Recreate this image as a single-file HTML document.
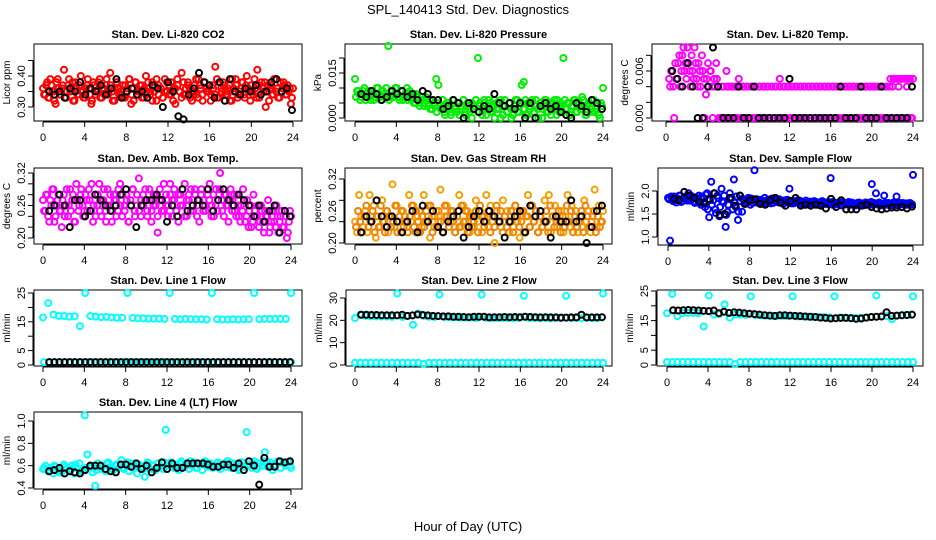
<!DOCTYPE html>
<html><head><meta charset="utf-8"><title>SPL_140413 Std. Dev. Diagnostics</title>
<style>
html,body{margin:0;padding:0;background:#fff;}
svg{display:block;font-family:"Liberation Sans",sans-serif;}
</style></head>
<body>
<svg id="chart" width="936" height="540" viewBox="0 0 936 540" xmlns="http://www.w3.org/2000/svg">
<text x="468" y="14" text-anchor="middle" font-size="13">SPL_140413  Std. Dev. Diagnostics</text>
<text x="468" y="531" text-anchor="middle" font-size="13">Hour of Day (UTC)</text>
</svg>
<script>
const xTicks = [0,4,8,12,16,20,24];

const co2Color = [.36,.34,.38,.33,.37,.35,.31,.39,.34,.36,.42,.33,.37,.35,.38,.32,.36,.34,.40,.35,.33,.37,.36,.31,.38,.34,.35,.39,.33,.36,.37,.34,.41,.35,.32,.38,.36,.34,.37,.33,.35,.39,.31,.36,.38,.34,.35,.37,.33,.40,.36,.34,.38,.35,.32,.37,.36,.33,.39,.35,.34,.38,.36,.31,.37,.35,.41,.34,.36,.38,.33,.35,.37,.34,.39,.36,.32,.38,.35,.37,.34,.36,.43,.33,.38,.35,.37,.34,.36,.32,.39,.35,.37,.34,.36,.38,.33,.40,.35,.37,.34,.36,.42,.33,.38,.35,.30,.37,.36,.34,.39,.35,.33,.38,.36,.37,.34,.35,.31,.36];
const co2Color2 = [.34,.37,.33,.39,.35,.32,.38,.36,.34,.37,.33,.35,.39,.36,.32,.38,.34,.37,.35,.33,.36,.39,.34,.32,.37,.35,.38,.33,.36,.34,.39,.35,.37,.32,.36,.38,.34,.35,.33,.37,.36,.39,.34,.32,.38,.35,.37,.33,.36,.34,.38,.35,.32,.37,.39,.34,.36,.33,.35,.38,.37,.34,.32,.36,.39,.35,.33,.38,.34,.37,.36,.32,.35,.39,.33,.37,.34,.38,.36,.35,.32,.37,.34,.39,.33,.36,.38,.35,.34,.37,.32,.36,.39,.33,.35,.38,.34,.37,.36,.32,.35,.39,.33,.37,.34,.36,.38,.35,.32,.37,.34,.39,.36,.33,.35,.38,.34,.37,.36,.33];
const co2Black = [.35,.34,.35,.33,.36,.35,.38,.34,.36,.35,.37,.34,.36,.39,.33,.35,.36,.34,.35,.33,.37,.36,.30,.38,.35,.27,.26,.34,.36,.41,.38,.37,.33,.38,.32,.39,.35,.34,.36,.35,.37,.34,.35,.38,.39,.35,.36,.29];

const presColor = [0.013,0.009,0.008,0.007,0.009,0.006,0.008,0.007,0.009,0.006,0.008,0.010,0.007,0.009,0.008,0.010,0.024,0.007,0.009,0.008,0.010,0.007,0.009,0.006,0.008,0.010,0.007,0.006,0.008,0.005,0.007,0.004,0.006,0.005,0.007,0.004,0.006,0.003,0.005,0.013,0.011,0.004,0.006,0.002,0.005,0.003,0.001,0.006,0.004,0.002,0.005,0.003,0.006,0.001,0.004,0.002,0.005,0.003,0.006,0.020,0.004,0.001,0.005,0.003,0.006,0.002,0.004,0.000,0.005,0.003,0.006,0.001,0.004,0.002,0.005,0.000,0.003,0.006,0.002,0.004,0.011,0.012,0.001,0.005,0.003,0.006,0.002,0.004,0.000,0.005,0.003,0.006,0.002,0.004,0.001,0.005,0.003,0.006,0.002,0.004,0.020,0.003,0.005,0.001,0.004,0.006,0.002,0.005,0.003,0.007,0.004,0.001,0.005,0.003,0.006,0.002,0.004,0.001,0.005,0.010];
const presColor2 = [0.007,0.009,0.006,0.008,0.010,0.007,0.009,0.006,0.008,0.007,0.010,0.008,0.006,0.009,0.007,0.008,0.006,0.009,0.007,0.010,0.008,0.006,0.009,0.007,0.008,0.006,0.009,0.007,0.005,0.008,0.006,0.005,0.007,0.004,0.006,0.005,0.003,0.006,0.004,0.002,0.005,0.003,0.006,0.001,0.004,0.005,0.002,0.006,0.003,0.005,0.001,0.004,0.006,0.002,0.005,0.003,0.000,0.004,0.006,0.002,0.005,0.003,0.006,0.001,0.004,0.005,0.002,0.006,0.003,0.005,0.000,0.004,0.006,0.002,0.005,0.003,0.001,0.004,0.006,0.002,0.005,0.003,0.006,0.001,0.004,0.005,0.002,0.006,0.003,0.005,0.000,0.004,0.006,0.002,0.005,0.003,0.006,0.001,0.004,0.005,0.002,0.006,0.003,0.005,0.001,0.004,0.006,0.002,0.005,0.003,0.006,0.001,0.004,0.005,0.002,0.006,0.003,0.005,0.000,0.004];
const presBlack = [0.008,0.007,0.009,0.008,0.006,0.007,0.009,0.008,0.009,0.007,0.008,0.006,0.009,0.008,0.006,0.006,0.003,0.004,0.006,0.005,0.000,0.005,0.003,0.002,0.004,0.003,0.008,0.005,0.004,0.005,0.003,0.005,0.000,0.005,0.000,0.004,0.005,0.003,0.004,0.002,0.001,0.000,0.005,0.004,0.002,0.006,0.005,0.003];

const tempColor = [0.005,0.006,0.004,0.007,0.005,0.008,0.006,0.009,0.007,0.009,0.006,0.008,0.005,0.007,0.004,0.006,0.008,0.005,0.003,0.007,0.006,0.004,0.005,0.007,0.004,0,0.004,0,0.006,0.004,0,0.004,0,0.004,0.005,0,0.004,0,0.004,0,0.004,0,0.004,0,0.004,0,0.004,0,0.004,0,0.004,0,0.004,0,0.005,0,0.004,0,0.004,0,0.004,0,0.004,0,0.004,0,0.004,0,0.004,0,0.004,0,0.004,0,0.004,0,0.004,0,0.004,0,0.004,0,0.004,0,0.004,0,0.004,0,0.004,0,0.004,0,0.004,0,0.004,0,0.004,0,0.004,0,0.004,0,0.004,0,0.004,0,0.004,0,0.005,0.004,0.005,0,0.004,0.005,0,0.005,0.004,0.005,0,0.005];
const tempColor2 = [0.004,0.006,0,0.005,0.007,0.004,0.008,0.006,0.005,0.007,0.004,0.006,0.009,0.005,0.007,0.004,0.006,0,0.005,0.004,0.006,0,0.004,0.005,0,0,0.004,0,0.004,0,0.004,0,0.004,0,0.004,0,0.004,0,0.004,0,0.004,0,0.004,0,0.004,0,0.004,0,0.004,0,0.004,0,0.004,0,0.004,0,0.004,0,0.004,0,0.004,0,0.004,0,0.004,0,0.004,0,0.004,0,0.004,0,0.004,0,0.004,0,0.004,0,0.004,0,0.004,0,0.004,0,0.004,0,0.004,0,0.004,0,0.004,0,0.004,0,0.004,0,0.004,0,0.004,0,0.004,0,0.004,0,0.004,0,0.004,0,0.004,0,0.005,0,0.005,0,0.005,0,0.005,0,0.005,0];
const tempBlack = [0.006,0.005,0.004,0.007,0.004,0,0,0.004,0.009,0.004,0,0,0,0.004,0,0,0.004,0,0,0,0,0,0,0.005,0,0,0,0,0,0,0,0,0,0.004,0,0,0,0.004,0,0,0,0.004,0,0,0,0,0,0.004];

const ambColor = [0.27,0.25,0.28,0.23,0.26,0.29,0.24,0.27,0.25,0.22,0.28,0.26,0.24,0.29,0.27,0.23,0.30,0.25,0.28,0.26,0.24,0.27,0.29,0.25,0.23,0.28,0.26,0.30,0.24,0.27,0.25,0.29,0.26,0.23,0.28,0.27,0.25,0.30,0.24,0.26,0.28,0.23,0.27,0.29,0.25,0.26,0.31,0.24,0.28,0.27,0.25,0.29,0.23,0.26,0.28,0.21,0.27,0.25,0.30,0.26,0.24,0.28,0.27,0.29,0.25,0.23,0.28,0.26,0.30,0.24,0.27,0.29,0.25,0.28,0.26,0.23,0.29,0.27,0.25,0.28,0.30,0.26,0.24,0.29,0.27,0.32,0.25,0.28,0.26,0.23,0.29,0.27,0.25,0.28,0.24,0.26,0.29,0.23,0.27,0.25,0.22,0.28,0.24,0.26,0.23,0.25,0.21,0.24,0.27,0.22,0.25,0.23,0.26,0.21,0.24,0.22,0.25,0.20,0.23,0.24];
const ambColor2 = [0.25,0.28,0.24,0.27,0.29,0.23,0.26,0.28,0.25,0.27,0.24,0.29,0.26,0.25,0.28,0.23,0.27,0.26,0.29,0.24,0.28,0.25,0.27,0.30,0.26,0.24,0.28,0.25,0.27,0.29,0.23,0.26,0.28,0.25,0.27,0.24,0.29,0.26,0.28,0.25,0.27,0.23,0.26,0.29,0.24,0.28,0.25,0.27,0.26,0.29,0.24,0.27,0.25,0.28,0.26,0.24,0.29,0.27,0.25,0.28,0.26,0.30,0.24,0.27,0.25,0.28,0.26,0.29,0.24,0.27,0.28,0.25,0.26,0.29,0.24,0.27,0.28,0.25,0.26,0.29,0.27,0.24,0.28,0.26,0.25,0.29,0.27,0.24,0.28,0.26,0.27,0.25,0.28,0.24,0.26,0.23,0.25,0.27,0.24,0.22,0.26,0.23,0.25,0.24,0.22,0.26,0.23,0.25,0.24,0.21,0.23,0.25,0.22,0.24,0.23,0.25,0.22,0.24,0.21,0.25];
const ambBlack = [0.25,0.26,0.28,0.26,0.22,0.27,0.27,0.24,0.25,0.28,0.27,0.26,0.25,0.26,0.28,0.29,0.26,0.22,0.26,0.27,0.27,0.28,0.27,0.23,0.26,0.24,0.29,0.25,0.26,0.27,0.26,0.29,0.25,0.27,0.29,0.27,0.26,0.28,0.27,0.26,0.24,0.26,0.23,0.25,0.26,0.21,0.25,0.24];

const rhColor = [0.24,0.22,0.29,0.25,0.23,0.26,0.22,0.29,0.24,0.27,0.21,0.25,0.23,0.28,0.24,0.26,0.22,0.25,0.31,0.23,0.27,0.24,0.22,0.26,0.25,0.23,0.29,0.24,0.27,0.22,0.25,0.26,0.23,0.29,0.24,0.27,0.21,0.25,0.23,0.26,0.24,0.30,0.22,0.25,0.27,0.23,0.24,0.26,0.22,0.25,0.29,0.23,0.27,0.24,0.26,0.22,0.25,0.23,0.28,0.24,0.26,0.22,0.25,0.29,0.23,0.27,0.24,0.20,0.26,0.25,0.23,0.28,0.24,0.26,0.22,0.25,0.23,0.27,0.24,0.21,0.26,0.22,0.25,0.29,0.23,0.27,0.24,0.26,0.22,0.25,0.23,0.28,0.24,0.29,0.22,0.25,0.27,0.23,0.24,0.26,0.22,0.25,0.29,0.23,0.27,0.24,0.26,0.22,0.25,0.23,0.28,0.24,0.26,0.22,0.25,0.30,0.23,0.27,0.24,0.26];
const rhColor2 = [0.23,0.26,0.24,0.22,0.25,0.27,0.23,0.24,0.26,0.22,0.25,0.23,0.27,0.24,0.22,0.26,0.25,0.23,0.24,0.27,0.22,0.25,0.26,0.23,0.24,0.22,0.25,0.27,0.23,0.26,0.24,0.22,0.25,0.23,0.26,0.24,0.27,0.22,0.25,0.23,0.26,0.24,0.22,0.27,0.25,0.23,0.26,0.24,0.22,0.25,0.23,0.27,0.24,0.26,0.22,0.25,0.23,0.24,0.26,0.22,0.27,0.25,0.23,0.24,0.26,0.22,0.25,0.23,0.27,0.24,0.26,0.22,0.25,0.23,0.24,0.26,0.22,0.27,0.25,0.23,0.24,0.26,0.22,0.25,0.23,0.27,0.24,0.26,0.22,0.25,0.23,0.24,0.26,0.22,0.27,0.25,0.23,0.24,0.26,0.22,0.25,0.23,0.27,0.24,0.26,0.22,0.25,0.23,0.24,0.26,0.22,0.27,0.25,0.23,0.24,0.26,0.22,0.25,0.23,0.24];
const rhBlack = [0.22,0.25,0.24,0.28,0.25,0.23,0.25,0.24,0.22,0.24,0.26,0.22,0.27,0.24,0.26,0.23,0.22,0.24,0.25,0.26,0.21,0.23,0.25,0.26,0.24,0.26,0.25,0.24,0.21,0.24,0.25,0.26,0.22,0.27,0.25,0.26,0.24,0.21,0.25,0.24,0.24,0.28,0.24,0.25,0.20,0.23,0.26,0.27];

const flowColor = [1.85,0.92,1.80,1.88,1.75,1.83,1.90,1.78,1.86,1.82,1.95,1.79,1.87,1.74,1.84,1.90,1.70,1.86,1.65,1.95,1.43,2.20,1.80,1.60,1.90,1.45,2.05,1.75,1.22,1.55,1.95,1.85,2.25,1.65,1.37,1.90,1.55,1.80,1.75,1.85,1.70,1.82,2.45,1.75,1.80,1.72,1.78,1.85,1.75,1.80,1.73,1.84,1.78,1.76,1.82,1.74,1.79,1.77,1.81,2.05,1.73,1.78,1.75,1.80,1.72,1.77,1.70,1.79,1.74,1.76,1.72,1.78,1.73,1.75,1.71,1.77,1.74,1.72,1.76,2.28,1.70,1.75,1.72,1.74,1.69,1.76,1.71,1.73,1.70,1.75,1.72,1.70,1.74,1.71,1.73,1.69,1.75,1.72,1.70,2.15,1.74,1.95,1.71,1.73,1.70,1.90,1.72,1.74,1.71,1.69,1.73,1.88,1.70,1.72,1.74,1.71,1.73,1.70,1.72,2.35];
const flowColor2 = [1.82,1.88,1.78,1.85,1.80,1.90,1.76,1.84,1.87,1.79,1.83,1.89,1.77,1.86,1.81,1.75,1.88,1.72,1.92,1.60,1.80,1.70,1.95,1.52,1.85,1.65,1.78,1.90,1.48,1.70,1.82,1.60,1.75,1.88,1.55,1.78,1.83,1.72,1.80,1.76,1.84,1.74,1.79,1.82,1.75,1.81,1.77,1.73,1.80,1.76,1.83,1.74,1.78,1.81,1.75,1.79,1.72,1.80,1.76,1.74,1.78,1.73,1.77,1.75,1.79,1.72,1.76,1.74,1.71,1.77,1.75,1.73,1.76,1.70,1.74,1.78,1.72,1.75,1.71,1.73,1.76,1.70,1.74,1.72,1.75,1.69,1.73,1.71,1.76,1.70,1.74,1.72,1.69,1.75,1.71,1.73,1.70,1.74,1.72,1.76,1.70,1.73,1.71,1.75,1.69,1.72,1.74,1.70,1.73,1.71,1.75,1.72,1.69,1.74,1.71,1.73,1.70,1.72,1.74,1.71];
const flowBlack = [1.83,1.80,1.98,1.90,1.85,1.77,1.74,1.82,1.95,1.48,1.50,1.85,1.68,1.90,1.72,1.80,1.82,1.72,1.70,1.80,1.85,1.75,1.68,1.78,1.85,1.68,1.70,1.68,1.70,1.68,1.62,1.83,1.65,1.80,1.60,1.60,1.60,1.68,1.70,1.65,1.62,1.60,1.62,1.64,1.64,1.65,1.62,1.66];

const line1High = [16.5,21.5,17.5,17,17,16.8,16.9,13.5,25,17,16.8,16.6,16.7,16.5,16.4,16.4,25,16.3,16.2,16.2,16.1,16.1,16.1,16.0,25,16.0,15.9,16.0,15.9,15.9,15.9,15.8,25,15.9,15.8,15.8,15.9,15.8,15.9,15.9,25,15.9,16.0,16.0,16.0,16.0,16.0,25];
const line1Low = [1,1,1,1,1,1,1,1,1,1,1,1,1,1,1,1,1,1,1,1,1,1,1,1,1,1,1,1,1,1,1,1,1,1,1,1,1,1,1,1,1,1,1,1,1,1,1,1];
const line1Black = [1,1,1,1,1,1,1,1,1,1,1,1,1,1,1,1,1,1,1,1,1,1,1,1,1,1,1,1,1,1,1,1,1,1,1,1,1,1,1,1,1,1,1,1,1,1,1,1];

const line2High = [21,22.5,22,21.8,21.8,21.7,21.7,21.6,32,21.5,22,18,23,22,21.6,21.5,31.5,21.4,21.3,21.3,21.2,21.2,21.2,21.1,31.5,21.1,21.0,21.0,21.0,21.0,21.0,21.0,31,21.0,21.0,20.9,21.0,20.9,21.0,21.0,31,21.0,21.1,21.0,21.1,21.0,21.0,32];
const line2Low = [1,1,1,1,1,1,1,1,1,1,1,1,1,0.5,1,1,1,1,1,1,1,1,1,1,1,1,1,1,1,1,1,1,1,1,1,1,1,1,1,1,1,1,1,1,1,1,1,1];
const line2Black = [22.5,22.5,22.4,22.4,22.3,22.3,22.3,22.2,22.5,22.0,22.2,22.6,22.4,22.2,22.0,21.9,21.8,21.8,21.6,21.6,21.5,21.4,21.6,21.6,21.6,21.3,21.4,21.4,21.5,21.4,21.5,21.4,21.6,21.5,21.4,21.3,21.4,21.3,21.3,21.2,21.2,21.3,21.3,22.5,21.3,21.3,21.3,21.4];

const line3High = [17.5,24,16.5,17.5,17.6,17.6,17.5,13,23.5,17,17.2,20.5,16,17,17,16.9,23.2,16.8,16.8,16.7,16.6,16.6,16.6,16.5,23.2,16.4,16.4,16.3,16.3,16.2,16.2,16.1,23.2,16.0,16.0,15.9,15.9,15.9,16.0,16.2,23.5,16.4,16.5,15.5,16.7,16.8,16.9,23.2];
const line3Low = [1,1,1,1,1,1,1,1,1,1,1,1,1,0.3,1,1,1,1,1,1,1,1,1,1,1,1,1,1,1,1,1,1,1,1,1,1,1,1,1,1,1,1,1,1,1,1,1,1];
const line3Black = [18.5,18.4,18.5,18.6,18.5,18.4,18.3,18.2,18.4,17.5,18.0,17.6,17.8,17.7,17.5,17.3,17.2,17.0,16.8,16.7,16.6,16.8,16.8,16.7,16.6,16.5,16.4,16.3,16.2,16.0,15.9,15.7,15.8,15.9,15.9,15.8,15.6,15.7,16.0,16.2,16.3,16.4,17.8,16.6,16.7,16.8,16.9,17.0];

const line4Color = [0.57,0.60,0.55,0.58,0.53,0.59,0.56,0.54,0.61,0.57,0.55,0.60,0.53,0.58,0.62,0.56,1.05,0.70,0.58,0.54,0.42,0.62,0.57,0.60,0.55,0.63,0.59,0.56,0.61,0.58,0.65,0.57,0.60,0.55,0.62,0.58,0.53,0.61,0.59,0.50,0.63,0.57,0.60,0.56,0.62,0.59,0.57,0.92,0.60,0.63,0.58,0.61,0.56,0.64,0.59,0.62,0.57,0.60,0.63,0.58,0.61,0.56,0.64,0.59,0.62,0.58,0.60,0.63,0.57,0.61,0.59,0.64,0.58,0.62,0.60,0.56,0.63,0.59,0.90,0.61,0.58,0.64,0.57,0.62,0.60,0.72,0.59,0.63,0.56,0.61,0.64,0.58,0.62,0.60,0.63,0.58];
const line4Color2 = [0.58,0.56,0.60,0.54,0.59,0.57,0.61,0.55,0.58,0.60,0.56,0.59,0.62,0.57,0.60,0.58,0.63,0.59,0.61,0.57,0.62,0.60,0.58,0.63,0.61,0.59,0.62,0.60,0.64,0.58,0.61,0.63,0.59,0.62,0.60,0.64,0.61,0.58,0.63,0.60,0.62,0.59,0.64,0.61,0.60,0.63,0.62,0.60];
const line4Black = [0.55,0.56,0.58,0.53,0.55,0.54,0.53,0.56,0.60,0.60,0.60,0.57,0.55,0.54,0.61,0.61,0.59,0.62,0.57,0.60,0.54,0.58,0.63,0.57,0.62,0.58,0.58,0.62,0.62,0.62,0.62,0.61,0.59,0.59,0.61,0.61,0.58,0.62,0.56,0.64,0.60,0.43,0.67,0.59,0.59,0.64,0.63,0.64];

const svg = document.getElementById('chart');
const NS = 'http://www.w3.org/2000/svg';
function mk(tag, attrs, parent){
  const e = document.createElementNS(NS, tag);
  for (const k in attrs) e.setAttribute(k, attrs[k]);
  (parent||svg).appendChild(e);
  return e;
}

function panel(key, title, ylab, bx0, bx1, by0, by1, x0px, x24px, v0, p0, v1, p1, yTicks, yLabels){
  const g = mk('g', {});
  
  
  const sx = h => x0px + (x24px - x0px) * h / 24;
  const sy = v => p0 + (p1 - p0) * (v - v0) / (v1 - v0);
  const box = mk('rect', {x:bx0, y:by0, width:bx1-bx0, height:by1-by0, fill:'none', stroke:'#000', 'stroke-width':1}, g);
  
  
  const t = mk('text', {x:(bx0+bx1)/2, y:by0-6, 'text-anchor':'middle', 'font-size':11, 'font-weight':'bold'}, g);
  t.textContent = title;
  
  
  const yl = mk('text', {x:0, y:0, 'text-anchor':'middle', 'font-size':10, transform:'translate(' + (bx0-24) + ',' + ((by0+by1)/2) + ') rotate(-90)'}, g);
  yl.textContent = ylab;
  
  
  const xa = mk('g', {}, g);
  
  
  mk('line', {x1:sx(xTicks[0]), x2:sx(xTicks[xTicks.length-1]), y1:by1+1, y2:by1+1, stroke:'#000'}, xa);
  xTicks.forEach(h => {
    mk('line', {x1:sx(h), x2:sx(h), y1:by1+1, y2:by1+6, stroke:'#000'}, xa);
    const tl = mk('text', {x:sx(h), y:by1+20, 'text-anchor':'middle', 'font-size':11}, xa);
    tl.textContent = h;
    
    
  });
  const ya = mk('g', {}, g);
  
  
  mk('line', {x1:bx0-1, x2:bx0-1, y1:sy(yTicks[0]), y2:sy(yTicks[yTicks.length-1]), stroke:'#000'}, ya);
  yTicks.forEach(v => {
    mk('line', {x1:bx0-6, x2:bx0-1, y1:sy(v), y2:sy(v), stroke:'#000'}, ya);
  });
  yLabels.forEach(s => {
    const tl = mk('text', {x:0, y:0, 'text-anchor':'middle', 'font-size':11, transform:'translate(' + (bx0-9) + ',' + sy(parseFloat(s)) + ') rotate(-90)'}, ya);
    tl.textContent = s;
    
    
  });
  const clip = mk('g', {}, g);
  
  
  return {g:clip, sx, sy};
}

function pts(P, key, vals, color, start, end, name){
  const s = mk('g', {fill:'none', stroke:color, 'stroke-width':2}, P.g);
  
  
  const n = vals.length;
  vals.forEach((v, i) => {
    const h = start + (end - start) * i / (n - 1);
    const c = mk('circle', {cx:P.sx(h), cy:P.sy(v), r:3}, s);
    
    
  });
}

let P;
P = panel('co2', 'Stan. Dev. Li-820 CO2', 'Licor ppm', 34, 302, 44, 121, 43, 293, 0.30, 107, 0.40, 76, [0.30,0.35,0.40,0.45], ['0.30','0.40']);
pts(P, 'co2', co2Color, 'red', 0, 24, 'all-values'); pts(P, 'co2', co2Color2, 'red', 0.1, 23.9, 'all-values-b'); pts(P, 'co2', co2Black, '#000', 0.6, 23.9, 'half-hour-values');

P = panel('pressure', 'Stan. Dev. Li-820 Pressure', 'kPa', 345, 612, 44, 121, 355, 603, 0, 118, 0.015, 73, [0,0.005,0.010,0.015,0.020], ['0.000','0.015']);
pts(P, 'pressure', presColor, '#00ee00', 0, 24, 'all-values'); pts(P, 'pressure', presColor2, '#00ee00', 0.1, 23.9, 'all-values-b'); pts(P, 'pressure', presBlack, '#000', 0.6, 23.9, 'half-hour-values');

P = panel('temp', 'Stan. Dev. Li-820 Temp.', 'degrees C', 652, 923, 44, 121, 666, 913, 0, 118, 0.006, 71, [0,0.002,0.004,0.006,0.008], ['0.000','0.006']);
pts(P, 'temp', tempColor, '#ff00ff', 0.3, 24, 'all-values'); pts(P, 'temp', tempColor2, '#ff00ff', 0.4, 23.9, 'all-values-b'); pts(P, 'temp', tempBlack, '#000', 0.6, 23.9, 'half-hour-values');

P = panel('amb', 'Stan. Dev. Amb. Box Temp.', 'degrees C', 34, 302, 168, 244, 43, 291, 0.20, 238, 0.32, 173, [0.20,0.22,0.24,0.26,0.28,0.30,0.32], ['0.20','0.26','0.32']);
pts(P, 'amb', ambColor, '#ff00ff', 0, 24, 'all-values'); pts(P, 'amb', ambColor2, '#ff00ff', 0.1, 23.9, 'all-values-b'); pts(P, 'amb', ambBlack, '#000', 0.6, 23.9, 'half-hour-values');

P = panel('rh', 'Stan. Dev. Gas Stream RH', 'percent', 345, 612, 168, 244, 355, 603, 0.20, 243, 0.32, 179, [0.20,0.24,0.28,0.32], ['0.20','0.26','0.32']);
pts(P, 'rh', rhColor, '#f5a000', 0, 24, 'all-values'); pts(P, 'rh', rhColor2, '#f08000', 0.1, 23.9, 'all-values-b'); pts(P, 'rh', rhBlack, '#000', 0.6, 23.9, 'half-hour-values');

P = panel('sample-flow', 'Stan. Dev. Sample Flow', 'ml/min', 658, 923, 168, 245, 668, 913, 1.0, 237, 2.0, 191, [1.0,1.5,2.0], ['1.0','1.5','2.0']);
pts(P, 'sample-flow', flowColor, '#0000ff', 0, 24, 'all-values'); pts(P, 'sample-flow', flowColor2, '#0000ff', 0.1, 23.9, 'all-values-b'); pts(P, 'sample-flow', flowBlack, '#000', 0.6, 23.9, 'half-hour-values');

P = panel('line1', 'Stan. Dev. Line 1 Flow', 'ml/min', 34, 302, 290, 366, 43, 291, 0, 365, 25, 293, [0,5,10,15,20,25], ['0','5','15','25']);
pts(P, 'line1', line1High, '#00ffff', 0, 24, 'all-values-high'); pts(P, 'line1', line1Low, '#00ffff', 0.1, 24, 'all-values-low'); pts(P, 'line1', line1Black, '#000', 0.6, 23.9, 'half-hour-values');

P = panel('line2', 'Stan. Dev. Line 2 Flow', 'ml/min', 346, 612, 290, 366, 355, 603, 0, 365, 30, 298, [0,10,20,30], ['0','10','20','30']);
pts(P, 'line2', line2High, '#00ffff', 0, 24, 'all-values-high'); pts(P, 'line2', line2Low, '#00ffff', 0, 24, 'all-values-low'); pts(P, 'line2', line2Black, '#000', 0.6, 23.9, 'half-hour-values');

P = panel('line3', 'Stan. Dev. Line 3 Flow', 'ml/min', 657, 923, 290, 366, 667, 913, 0, 365, 25, 291, [0,5,10,15,20,25], ['0','5','15','25']);
pts(P, 'line3', line3High, '#00ffff', 0, 24, 'all-values-high'); pts(P, 'line3', line3Low, '#00ffff', 0, 24, 'all-values-low'); pts(P, 'line3', line3Black, '#000', 0.6, 23.9, 'half-hour-values');

P = panel('line4', 'Stan. Dev. Line 4 (LT) Flow', 'ml/min', 34, 302, 412, 489, 43, 291, 0.4, 488, 1.0, 421, [0.4,0.6,0.8,1.0], ['0.4','0.6','0.8','1.0']);
pts(P, 'line4', line4Color, '#00ffff', 0, 24, 'all-values'); pts(P, 'line4', line4Color2, '#00ffff', 0.1, 23.9, 'all-values-b'); pts(P, 'line4', line4Black, '#000', 0.6, 23.9, 'half-hour-values');
</script>
</body></html>
